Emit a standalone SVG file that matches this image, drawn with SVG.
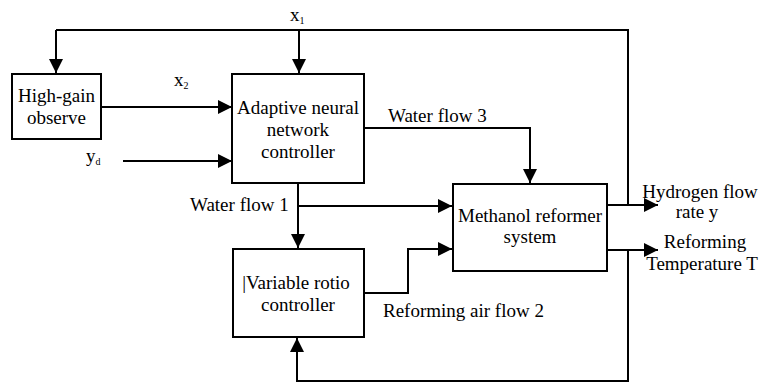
<svg xmlns="http://www.w3.org/2000/svg" width="761" height="384" viewBox="0 0 761 384">
  <defs>
    <marker id="arr" viewBox="0 0 14 14" refX="14" refY="7" markerWidth="14" markerHeight="14" markerUnits="userSpaceOnUse" orient="auto">
      <path d="M0,0 L14,7 L0,14 Z" fill="#000"/>
    </marker>
    <style>
      .box { fill: #fff; stroke: #000; stroke-width: 2; }
      .wire { fill: none; stroke: #000; stroke-width: 2; }
      .arrow { marker-end: url(#arr); }
      text { font-family: "Liberation Serif", "Times New Roman", serif; font-size: 19px; fill: #000; }
      .c { text-anchor: middle; }
      .sub { font-size: 10px; }
    </style>
  </defs>
  <rect width="761" height="384" fill="#fff"/>

  <g id="connectors">
    <!-- x1 feedback from hydrogen output to observer and controller -->
    <polyline class="wire" points="628,205 628,30 56,30"/>
    <polyline class="wire arrow" points="56,30 56,73"/>
    <polyline class="wire arrow" points="299,30 299,73"/>
    <!-- x2 -->
    <polyline class="wire arrow" points="101,107 232,107"/>
    <!-- yd -->
    <polyline class="wire arrow" points="123,161 232,161"/>
    <!-- water flow 3 -->
    <polyline class="wire arrow" points="364,128 530,128 530,183"/>
    <!-- water flow 1 -->
    <polyline class="wire arrow" points="298,183 298,248"/>
    <polyline class="wire arrow" points="298,206 452,206"/>
    <!-- reforming air flow 2 -->
    <polyline class="wire arrow" points="364,293 408,293 408,249 452,249"/>
    <!-- outputs -->
    <polyline class="wire arrow" points="607,205 658,205"/>
    <polyline class="wire arrow" points="607,250 658,250"/>
    <!-- temperature feedback -->
    <polyline class="wire arrow" points="628,250 628,381 297,381 297,338"/>
  </g>

  <g id="observer">
    <rect class="box" x="12" y="74" width="89" height="65"/>
    <text class="c" x="56.5" y="102">High-gain</text>
    <text class="c" x="56.5" y="124">observe</text>
  </g>

  <g id="controller">
    <rect class="box" x="232" y="74" width="132" height="109"/>
    <text class="c" x="298" y="114">Adaptive neural</text>
    <text class="c" x="298" y="136">network</text>
    <text class="c" x="298" y="158">controller</text>
  </g>

  <g id="reformer">
    <rect class="box" x="453" y="184" width="154" height="87"/>
    <text class="c" x="530" y="222">Methanol reformer</text>
    <text class="c" x="530" y="243">system</text>
  </g>

  <g id="ratio">
    <rect class="box" x="233" y="249" width="131" height="88"/>
    <text class="c" x="296" y="289">|Variable rotio</text>
    <text class="c" x="298" y="311">controller</text>
  </g>

  <g id="labels">
    <text x="290" y="21">x<tspan class="sub" dy="3">1</tspan></text>
    <text x="174" y="86">x<tspan class="sub" dy="3">2</tspan></text>
    <text x="86" y="162">y<tspan class="sub" dy="3">d</tspan></text>
    <text x="388" y="122">Water flow 3</text>
    <text x="190" y="211">Water flow 1</text>
    <text x="383" y="317">Reforming air flow 2</text>
    <text class="c" x="700" y="198">Hydrogen flow</text>
    <text class="c" x="697" y="218">rate y</text>
    <text class="c" x="705" y="248">Reforming</text>
    <text class="c" x="702" y="270">Temperature T</text>
  </g>
</svg>
